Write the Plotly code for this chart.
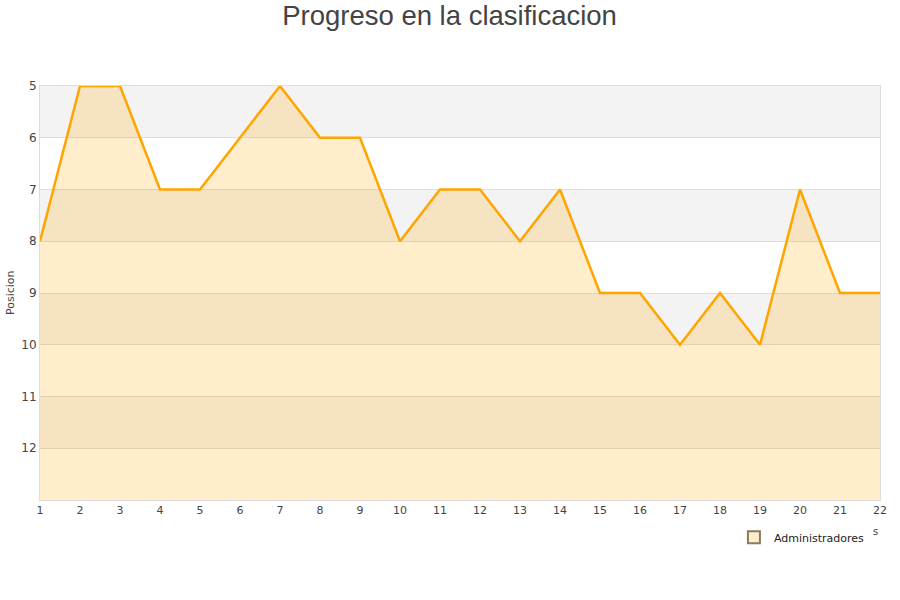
import plotly.graph_objects as go

jornadas = list(range(1, 23))
posicion = [8, 5, 5, 7, 7, 6, 5, 6, 6, 8, 7, 7, 8, 7, 9, 9, 10, 9, 10, 7, 9, 9]
serie = "Administradores"
y_ticks = [5, 6, 7, 8, 9, 10, 11, 12]
y_min, y_max = 5, 13

fig = go.Figure()

# baseline for fill
fig.add_trace(go.Scatter(x=jornadas, y=[y_max] * len(jornadas), mode="lines",
                         line=dict(width=0, color="rgba(0,0,0,0)"),
                         showlegend=False, hoverinfo="skip"))
fig.add_trace(go.Scatter(x=jornadas, y=posicion, mode="lines", fill="tonexty",
                         fillcolor="rgba(255,165,0,0.2)",
                         line=dict(color="#FFA500", width=2.5),
                         name=serie, showlegend=False))
# legend entry
fig.add_trace(go.Scatter(x=[None], y=[None], mode="markers",
                         marker=dict(symbol="square", size=8, color="#FFEDCC",
                                     line=dict(color="#8C7A60", width=1)),
                         name=serie, showlegend=True))

shapes = []
for i, v in enumerate(range(y_min, y_max)):
    if i % 2 == 0:
        shapes.append(dict(type="rect", xref="paper", yref="y", x0=0, x1=1,
                           y0=v, y1=v + 1, fillcolor="#F3F3F3", line=dict(width=0),
                           layer="below"))

fig.update_layout(
    width=900, height=600,
    paper_bgcolor="white", plot_bgcolor="white",
    margin=dict(l=40, r=20, t=86, b=100, autoexpand=False),
    title=dict(text="Progreso en la clasificacion", x=0.4995, xref="container", xanchor="center",
               y=0.975, yref="container", yanchor="middle",
               font=dict(family="Liberation Sans, Arial", size=27.5, color="#444")),
    font=dict(family="DejaVu Sans", size=11, color="#444"),
    shapes=shapes,
    showlegend=True,
    legend=dict(x=0.988, xanchor="right", y=-0.09, yanchor="middle",
                font=dict(size=11, color="#222"), bgcolor="rgba(0,0,0,0)",
                itemsizing="constant"),
    annotations=[
        dict(text="s", x=1.0, y=-0.095, xref="paper", yref="paper",
             showarrow=False, font=dict(size=10, color="#444")),
        dict(text="Posicion", x=-0.0357, y=0.5, xref="paper", yref="paper",
             xanchor="center", yanchor="middle",
             textangle=-90, showarrow=False, font=dict(size=11, color="#444")),
    ],
)

fig.update_xaxes(range=[1, 22], tickvals=jornadas, showgrid=False, zeroline=False,
                 showline=True, linecolor="#DDDDDD", mirror=True, ticks="",
                 automargin=False, tickfont=dict(size=11, color="#444"))
fig.update_yaxes(range=[y_max, y_min], tickvals=y_ticks, showgrid=True,
                 gridcolor="#DDDDDD", zeroline=False, showline=True,
                 linecolor="#DDDDDD", mirror=True, ticks="", automargin=False,
                 tickfont=dict(size=12, color="#444"))

fig.write_html("out.html", config={"displayModeBar": False},
               post_script="document.body.style.margin='0';")
